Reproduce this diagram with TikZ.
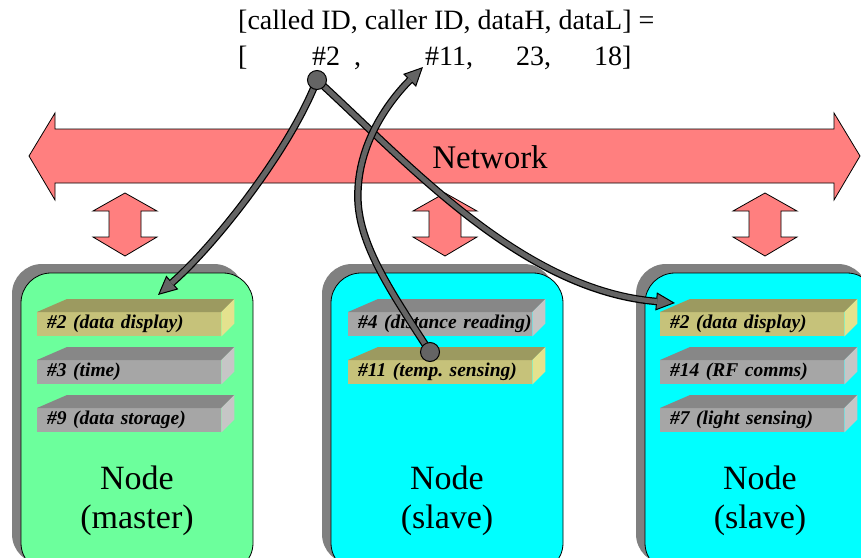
\documentclass[tikz,border=0pt]{standalone}
\usepackage{fontspec}
\setmainfont{Liberation Serif}
\usetikzlibrary{arrows.meta}
\frenchspacing
\definecolor{netred}{HTML}{FF7F7F}
\definecolor{mgreen}{HTML}{6CFF9C}
\definecolor{scyan}{HTML}{00FFFF}
\definecolor{shadowgray}{HTML}{808080}
\definecolor{yfront}{HTML}{C6C27A}
\definecolor{ytop}{HTML}{9C9A60}
\definecolor{yside}{HTML}{E4E28E}
\definecolor{gfront}{HTML}{A6A6A6}
\definecolor{gtop}{HTML}{878787}
\definecolor{gside}{HTML}{C6C6C6}
\definecolor{conngray}{HTML}{646464}
\newcommand\barfaces[3]{%
  \fill[#2] (#1.north west) -- ([shift={(30,-13)}]#1.north west) -- ([shift={(13,-13)}]#1.north east) -- (#1.north east) -- cycle;
  \fill[#3] (#1.north east) -- ([shift={(13,-13)}]#1.north east) -- ([shift={(13,-13)}]#1.south east) -- (#1.south east) -- cycle;}
\newcommand\conline[1]{\draw[connout] #1; \draw[connin] #1;}
\begin{document}
\begin{tikzpicture}[x=1pt,y=-1pt,
  netshape/.style={fill=netred,draw=black,line width=0.8pt,line join=miter},
  shadowbox/.style={fill=shadowgray,rounded corners=30pt,minimum width=232pt,minimum height=300pt,inner sep=0pt},
  nodebox/.style={draw=black,line width=0.8pt,rounded corners=30pt,minimum width=232pt,minimum height=300pt,inner sep=0pt},
  barbox/.style={anchor=north west,minimum width=184pt,minimum height=24pt,inner xsep=10pt,inner ysep=0pt,
     text width=164pt,align=left,font=\fontsize{19.5}{20}\selectfont\bfseries\itshape},
  ybar/.style={barbox,fill=yfront},
  gbar/.style={barbox,fill=gfront},
  toptext/.style={anchor=base west,inner sep=0pt,font=\fontsize{28}{32}\selectfont},
  bigtext/.style={anchor=base,inner sep=0pt,font=\fontsize{34}{40}\selectfont},
  connout/.style={draw=black,line width=7.5pt,-{Triangle[length=19pt,width=18pt,fill=conngray,line width=1pt]}},
  connin/.style={draw=conngray,line width=5pt,shorten >=18pt},
  dotnode/.style={circle,fill=conngray,draw=black,line width=1pt,minimum size=19pt,inner sep=0pt}
]
\useasboundingbox (0,0) rectangle (861,557);
\clip (0,0) rectangle (861,557);

% network arrow
\draw[netshape] (29,156) -- (55,113) -- (55,129) -- (834,129) -- (834,113) -- (860,156)
  -- (834,200) -- (834,183) -- (55,183) -- (55,200) -- cycle;
\node[anchor=base,inner sep=0pt,font=\fontsize{33}{40}\selectfont] (net) at (490,168) {Network};

% small vertical double arrows
\foreach \cx in {125,445,765}{
  \draw[netshape] (\cx,193) -- (\cx+32,211) -- (\cx+16,211) -- (\cx+16,237) -- (\cx+32,237)
    -- (\cx,256) -- (\cx-32,237) -- (\cx-16,237) -- (\cx-16,211) -- (\cx-32,211) -- cycle;
}

% node boxes
\node[shadowbox] (shA) at (128,414) {};
\node[nodebox,fill=mgreen] (boxA) at (137,423) {};
\node[shadowbox] (shB) at (438,414) {};
\node[nodebox,fill=scyan] (boxB) at (447,423) {};
\node[shadowbox] (shC) at (752,414) {};
\node[nodebox,fill=scyan] (boxC) at (761,423) {};

% bars, left box
\node[ybar] (a1) at (37,312) {\mbox{\#2 (data display)}};
\barfaces{a1}{ytop}{yside}
\node[gbar] (a2) at (37,360) {\mbox{\#3 (time)}};
\barfaces{a2}{gtop}{gside}
\node[gbar] (a3) at (37,408) {\mbox{\#9 (data storage)}};
\barfaces{a3}{gtop}{gside}
% bars, middle box
\node[gbar] (b1) at (348,312) {\mbox{\#4 (distance reading)}};
\barfaces{b1}{gtop}{gside}
\node[ybar] (b2) at (348,360) {\mbox{\#11 (temp. sensing)}};
\barfaces{b2}{ytop}{yside}
% bars, right box
\node[ybar] (c1) at (660,312) {\mbox{\#2 (data display)}};
\barfaces{c1}{ytop}{yside}
\node[gbar] (c2) at (660,360) {\mbox{\#14 (RF comms)}};
\barfaces{c2}{gtop}{gside}
\node[gbar] (c3) at (660,408) {\mbox{\#7 (light sensing)}};
\barfaces{c3}{gtop}{gside}

% box labels
\node[bigtext] (la1) at (137,489) {Node};
\node[bigtext] (la2) at (137,528) {(master)};
\node[bigtext] (lb1) at (447,489) {Node};
\node[bigtext] (lb2) at (447,528) {(slave)};
\node[bigtext] (lc1) at (760,489) {Node};
\node[bigtext] (lc2) at (760,528) {(slave)};

% top text
\node[toptext] (t1) at (238,29) {[called ID, caller ID, dataH, dataL] =};
\node[toptext] (t2a) at (238,65) {[};
\node[toptext] (t2b) at (312,65) {\#2};
\node[toptext] (t2c) at (354,65) {,};
\node[toptext] (t2d) at (425,65) {\#11,};
\node[toptext] (t2e) at (516,65) {23,};
\node[toptext] (t2f) at (594,65) {18]};

% connectors
\coordinate (srcA) at (317,80);
\coordinate (srcB) at (430,352);
\coordinate (tipA) at (158,295);
\coordinate (tipB) at (675,303);
\coordinate (tipC) at (423,67);
\conline{(srcA) .. controls (290,150) and (215,245) .. (tipA)}
\conline{(srcA) .. controls (405,160) and (520,290) .. (tipB)}
\conline{(srcB) .. controls (390,290) and (355,240) .. (358,190) .. controls (360,140) and (390,100) .. (tipC)}
\node[dotnode] (dotA) at (srcA) {};
\node[dotnode] (dotB) at (srcB) {};
\end{tikzpicture}
\end{document}
